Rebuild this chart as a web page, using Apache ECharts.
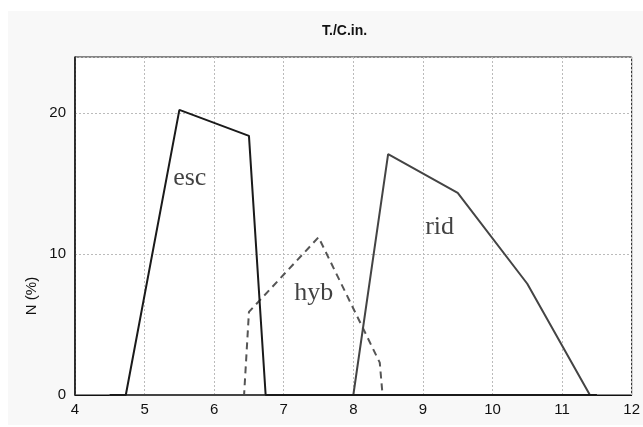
<!DOCTYPE html>
<html>
<head>
<meta charset="utf-8">
<script src="https://cdn.jsdelivr.net/npm/echarts@6/dist/echarts.min.js"></script>
<style>
html,body{margin:0;padding:0;background:#fff;}
#c{width:643px;height:427px;}
</style>
</head>
<body>
<div id="c"></div>
<script>
// Data
const titleText = 'T./C.in.';
const yName = 'N (%)';
const escData = [[4.5,0],[4.73,0],[5.5,20.25],[6.5,18.4],[6.74,0],[11.5,0]];
const hybData = [[4.5,0],[6.43,0],[6.5,5.9],[7.5,11.2],[8.38,2.3],[8.42,0],[11.5,0]];
const ridData = [[4.5,0],[8.0,0],[8.5,17.1],[9.5,14.35],[10.5,7.9],[11.4,0],[11.5,0]];
const labelNames = ['esc','hyb','rid'];
const labelPos = [[5.65,15.4],[7.43,7.2],[9.24,11.95]];

const chart = echarts.init(document.getElementById('c'), null, {renderer:'canvas'});
const axisFont = {fontFamily:'Liberation Sans, Arial, sans-serif', fontSize:15, color:'#111'};
chart.setOption({
  animation:false,
  backgroundColor:'#fff',
  graphic:[
    {type:'rect', z:-10, shape:{x:8,y:11,width:640,height:414}, style:{fill:'#f8f8f8'}},
    {type:'text', x:32, y:296, rotation:Math.PI/2, style:{text:yName, fill:'#111', font:'15px Liberation Sans, Arial, sans-serif', textAlign:'center', textVerticalAlign:'middle'}}
  ],
  title:{text:titleText, left:322, top:24, padding:0,
    textStyle:{fontFamily:'Liberation Sans, Arial, sans-serif', fontSize:14, fontWeight:'bold', color:'#111'}},
  grid:{left:75, right:11, top:57, bottom:32, show:true, backgroundColor:'#fff', borderColor:'#111', borderWidth:1},
  xAxis:{type:'value', min:4, max:12, interval:1,
    axisLine:{show:true, onZero:false, lineStyle:{color:'#111', width:1}},
    axisTick:{show:false},
    axisLabel:Object.assign({margin:7}, axisFont),
    splitLine:{show:true, lineStyle:{color:'#bbb', type:[2,2], width:1}}},
  yAxis:{type:'value', min:0, max:24, interval:10,
    axisLine:{show:true, lineStyle:{color:'#111', width:1.5}},
    axisTick:{show:false},
    axisLabel:Object.assign({margin:9, showMaxLabel:false}, axisFont),
    splitLine:{show:true, lineStyle:{color:'#bbb', type:[2,2], width:1}}},
  series:[
    {type:'line', data:hybData, symbol:'none', z:2, lineStyle:{color:'#555', width:2, type:[7,5]}},
    {type:'line', data:ridData, symbol:'none', z:3, lineStyle:{color:'#444', width:2}},
    {type:'line', data:escData, symbol:'none', z:4, lineStyle:{color:'#1a1a1a', width:2}},
    {type:'scatter', symbolSize:0, z:5,
      data:labelPos.map((p,i)=>({value:p, name:labelNames[i]})),
      label:{show:true, position:'inside', formatter:'{b}', fontFamily:'Liberation Serif, Times New Roman, serif', fontSize:26, color:'#111'}}
  ]
});
</script>
</body>
</html>
